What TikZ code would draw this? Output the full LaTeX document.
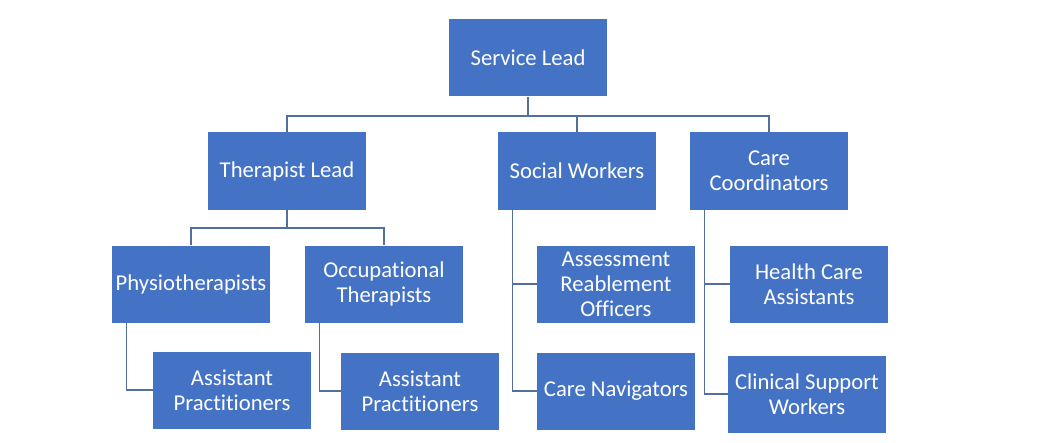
\documentclass[tikz,border=0pt]{standalone}
\usepackage{fontspec}
\setmainfont{Carlito}[Ligatures=NoCommon]
\usepackage{xcolor}
\definecolor{boxblue}{HTML}{4472C4}
\definecolor{linkblue}{HTML}{52709E}
\usepackage{tikz}
\usetikzlibrary{positioning}

\begin{document}
\begin{tikzpicture}[
      x=0.75pt, y=-0.75pt,
      font=\fontsize{17}{18.75}\selectfont,
      role/.style={rectangle, fill=boxblue, text=white, align=center,
                   minimum width=118.5pt, minimum height=57.75pt, inner sep=2pt},
      link/.style={draw=linkblue, line width=1.1pt},
    ]
    \useasboundingbox (0,0) rectangle (1037,442);

    \node[role] (lead)     at (528, 58)   {Service Lead};
    \node[role] (therlead) at (287, 171)  {Therapist Lead};
    \node[role] (social)   at (577, 171)  {Social Workers};
    \node[role] (carecoord) at (769, 171) {Care\\Coordinators};
    \node[role] (physio)   at (191, 284)  {Physiotherapists};
    \node[role] (occther)  at (384, 284)  {Occupational\\Therapists};
    \node[role] (assess)   at (616, 284)  {Assessment\\Reablement\\Officers};
    \node[role] (hca)      at (809, 284)  {Health Care\\Assistants};
    \node[role] (physap)   at (232, 390)  {Assistant\\Practitioners};
    \node[role] (occap)    at (420, 391)  {Assistant\\Practitioners};
    \node[role] (navig)    at (616, 391)  {Care Navigators};
    \node[role] (clinsup)  at (807, 394)  {Clinical Support\\Workers};

    \coordinate (leadjoin) at (528, 116);
    \coordinate (therjoin) at (287, 228);

    \draw[link] (lead.south) -- (leadjoin);
    \draw[link] (therlead.north) |- (leadjoin);
    \draw[link] (social.north) |- (leadjoin);
    \draw[link] (carecoord.north) |- (leadjoin);
    \draw[link] (therlead.south) -- (therjoin);
    \draw[link] (physio.north) |- (therjoin);
    \draw[link] (occther.north) |- (therjoin);
    \draw[link] ([xshift=11.25pt]physio.south west) |- (physap.west);
    \draw[link] ([xshift=11.25pt]occther.south west) |- (occap.west);
    \draw[link] ([xshift=11.25pt]social.south west) |- (assess.west);
    \draw[link] ([xshift=11.25pt]social.south west) |- (navig.west);
    \draw[link] ([xshift=11.25pt]carecoord.south west) |- (hca.west);
    \draw[link] ([xshift=11.25pt]carecoord.south west) |- (clinsup.west);
  \end{tikzpicture}
\end{document}
